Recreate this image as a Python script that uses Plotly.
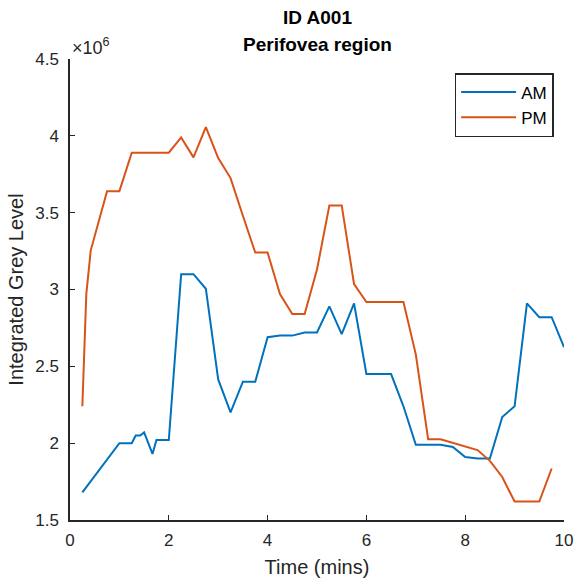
import plotly.graph_objects as go

# AM series (time in minutes, integrated grey level in units of 1e6)
am_time = [0.25, 1.0, 1.25, 1.33, 1.42, 1.5, 1.67, 1.75, 2.0, 2.25, 2.5, 2.75, 3.0, 3.25,
           3.5, 3.75, 4.0, 4.25, 4.5, 4.75, 5.0, 5.25, 5.5, 5.75, 6.0, 6.5, 6.75, 7.0,
           7.5, 7.75, 8.0, 8.25, 8.5, 8.75, 9.0, 9.25, 9.5, 9.75, 10.0]
am_value = [1.68, 2.0, 2.0, 2.05, 2.05, 2.07, 1.93, 2.02, 2.02, 3.10, 3.10, 3.005, 2.415, 2.20,
            2.40, 2.40, 2.69, 2.70, 2.70, 2.72, 2.72, 2.89, 2.71, 2.91, 2.45, 2.45, 2.24, 1.99,
            1.99, 1.975, 1.91, 1.90, 1.90, 2.17, 2.24, 2.91, 2.82, 2.82, 2.625]

# PM series
pm_time = [0.25, 0.33, 0.42, 0.75, 1.0, 1.25, 2.0, 2.25, 2.5, 2.75, 3.0, 3.25, 3.5, 3.75,
           4.0, 4.25, 4.5, 4.75, 5.0, 5.25, 5.5, 5.75, 6.0, 6.75, 7.0, 7.25, 7.5, 8.25,
           8.5, 8.75, 9.0, 9.5, 9.75]
pm_value = [2.24, 2.97, 3.255, 3.64, 3.64, 3.89, 3.89, 3.99, 3.86, 4.056, 3.855, 3.725, 3.48, 3.24,
            3.24, 2.97, 2.84, 2.84, 3.13, 3.547, 3.547, 3.035, 2.918, 2.918, 2.578, 2.026, 2.026, 1.955,
            1.885, 1.78, 1.62, 1.62, 1.835]

y_ticks = [1.5, 2, 2.5, 3, 3.5, 4, 4.5]
y_tick_labels = ["1.5", "2", "2.5", "3", "3.5", "4", "4.5"]
x_ticks = [0, 2, 4, 6, 8, 10]

SCALE = 1e6
axis_color = "#262626"
font_family = "Liberation Sans, Arial, sans-serif"

fig = go.Figure()
fig.add_trace(go.Scatter(x=am_time, y=[v * SCALE for v in am_value], mode="lines", name="AM",
                         line=dict(color="#0072BD", width=2)))
fig.add_trace(go.Scatter(x=pm_time, y=[v * SCALE for v in pm_value], mode="lines", name="PM",
                         line=dict(color="#D95319", width=2)))

fig.update_layout(
    width=575, height=580,
    margin=dict(l=70, r=11, t=59, b=60, autoexpand=False),
    paper_bgcolor="white", plot_bgcolor="white",
    font=dict(family=font_family, size=17, color=axis_color),
    showlegend=True,
    legend=dict(x=0.7786, y=0.9696, xanchor="left", yanchor="top",
                bordercolor=axis_color, borderwidth=1.5, bgcolor="white",
                font=dict(size=17, color="black"), tracegroupgap=0,
                itemwidth=55),
    xaxis=dict(range=[0, 10], tickvals=x_ticks, ticks="inside", ticklen=5, tickwidth=1,
               tickcolor=axis_color, showline=True, linecolor=axis_color, linewidth=1.5,
               showgrid=False, zeroline=False, mirror=False, automargin=False,
               ticklabelstandoff=4,
               title=dict(text="Time (mins)", font=dict(size=20, color=axis_color), standoff=11),
               tickfont=dict(size=17, color=axis_color)),
    yaxis=dict(range=[1.5 * SCALE, 4.5 * SCALE], tickvals=[t * SCALE for t in y_ticks],
               ticktext=y_tick_labels, ticks="inside", ticklen=5, tickwidth=1,
               tickcolor=axis_color, showline=True, linecolor=axis_color, linewidth=1.5,
               showgrid=False, zeroline=False, mirror=False, automargin=False,
               ticklabelstandoff=6,
               title=dict(text="Integrated Grey Level", font=dict(size=20, color=axis_color), standoff=6),
               tickfont=dict(size=17, color=axis_color)),
    annotations=[
        dict(text="<b>ID A001</b>", x=0.5, y=1.0, xref="paper", yref="paper",
             yshift=42, showarrow=False, font=dict(size=19, color="black"),
             xanchor="center", yanchor="middle"),
        dict(text="<b>Perifovea region</b>", x=0.5, y=1.0, xref="paper", yref="paper",
             yshift=15, showarrow=False, font=dict(size=19, color="black"),
             xanchor="center", yanchor="middle"),
        dict(text="×10<sup>6</sup>", x=0.0, y=1.0, xref="paper", yref="paper",
             xshift=0, yshift=13, showarrow=False, font=dict(size=18, color=axis_color),
             xanchor="left", yanchor="middle"),
    ],
)

fig.write_html("out.html", config={"displayModeBar": False},
               post_script="document.body.style.margin='0';")
